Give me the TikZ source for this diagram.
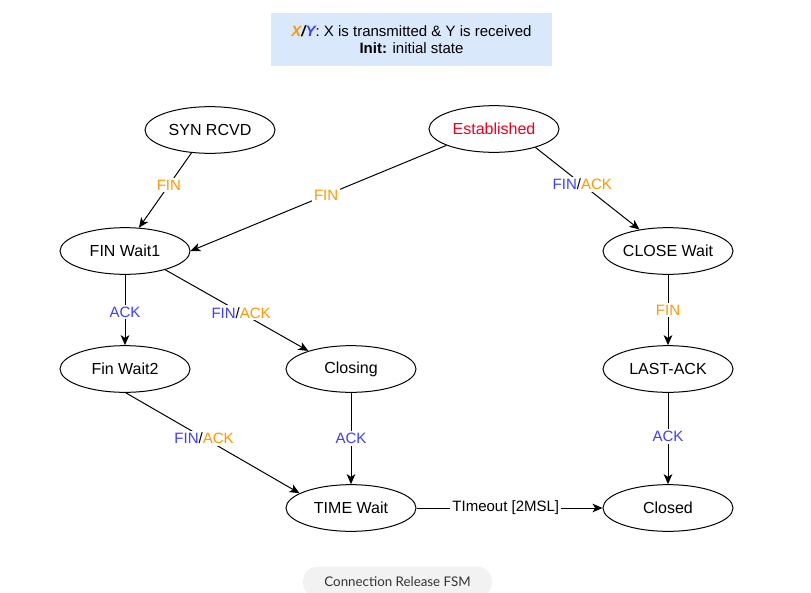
\documentclass[tikz,border=0pt]{standalone}
\usepackage{fontspec}
\setmainfont{Liberation Sans}
\newfontfamily\capfont{Lato}
\usetikzlibrary{shapes.geometric,arrows.meta}
\definecolor{finorange}{HTML}{FF9900}
\definecolor{ackblue}{HTML}{3F3FFF}
\definecolor{estred}{HTML}{F0001C}
\definecolor{legendblue}{HTML}{DAE8FC}
\definecolor{capgray}{HTML}{F2F2F2}
\tikzset{
  state/.style={draw,ellipse,line width=0.75pt,minimum width=97.5pt,minimum height=35pt,inner sep=0pt,font=\fontsize{12}{14}\selectfont},
  trans/.style={line width=0.75pt,-{Stealth[length=7.5pt,width=6.5pt,inset=2pt]}},
  lbl/.style={fill=white,inner sep=1.5pt,font=\fontsize{11.25}{13}\selectfont},
}
\def\finack{\textcolor{ackblue}{FIN}/\textcolor{finorange}{ACK}}

\begin{document}
\begin{tikzpicture}[x=0.75pt,y=-0.75pt]
\useasboundingbox (0,0) rectangle (811,593);
%legend
  \node[fill=legendblue,minimum width=210.75pt,minimum height=39.75pt,align=center,
    font=\fontsize{11.25}{12.75}\selectfont] (legend) at (411.5,39.5)
    {\textbf{\textit{\textcolor{finorange}{X}/\textcolor{ackblue}{Y}}}: X is transmitted \& Y is received\\
     \textbf{Init:} initial state};
%states
  \node[state] (synrcvd) at (210,130) {SYN RCVD};
  \node[state,text=estred] (established) at (494,129) {Established};
  \node[state] (finwait1) at (125,251) {FIN Wait1};
  \node[state] (closewait) at (668,251) {CLOSE Wait};
  \node[state] (finwait2) at (125,369) {Fin Wait2};
  \node[state] (closing) at (351,369) {Closing};
  \node[state] (lastack) at (668,369) {LAST-ACK};
  \node[state] (timewait) at (351,508) {TIME Wait};
  \node[state] (closed) at (668,508) {Closed};
%transitions
  \draw[trans] (synrcvd.231) -- node[lbl,pos=0.43,text=finorange] {FIN} (finwait1.59);
  \draw[trans] (established.199) -- node[lbl,pos=0.47,text=finorange] {FIN} (finwait1.east);
  \draw[trans] (established.336) -- node[lbl,pos=0.45] {\finack} (closewait.143);
  \draw[trans] (finwait1) -- node[lbl,pos=0.53,text=ackblue] {ACK} (finwait2);
  \draw[trans] (finwait1.335) -- node[lbl,pos=0.53] {\finack} (closing.157);
  \draw[trans] (closewait) -- node[lbl,pos=0.5,text=finorange] {FIN} (lastack);
  \draw[trans] (finwait2.272) -- node[lbl,pos=0.45] {\finack} (timewait.164);
  \draw[trans] (closing) -- node[lbl,pos=0.5,text=ackblue] {ACK} (timewait);
  \draw[trans] (lastack) -- node[lbl,pos=0.48,text=ackblue] {ACK} (closed);
  \draw[trans] (timewait) -- node[lbl,pos=0.48] {TImeout [2MSL]} (closed);
%caption
  \node[fill=capgray,rounded corners=11pt,minimum width=141.75pt,minimum height=23pt,
    text=black!80,font=\capfont\fontsize{10}{12}\selectfont] (caption) at (397.5,582) {Connection Release FSM};
\end{tikzpicture}
\end{document}
